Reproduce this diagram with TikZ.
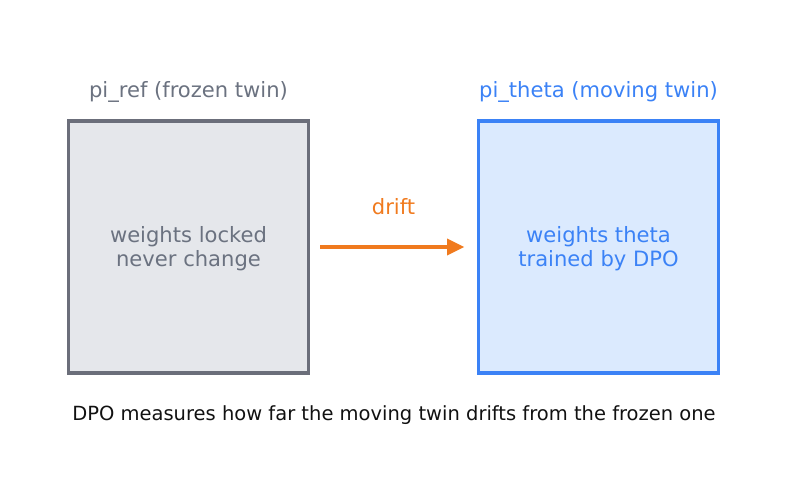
\documentclass[tikz,border=0pt]{standalone}
\usepackage{fontspec}
\setmainfont{DejaVu Sans}
\usetikzlibrary{arrows.meta,positioning}

\definecolor{frozenline}{HTML}{6B6E7A}
\definecolor{frozenfill}{HTML}{E5E7EB}
\definecolor{frozentext}{HTML}{6B7280}
\definecolor{movingline}{HTML}{3B82F6}
\definecolor{movingfill}{HTML}{DBEAFE}
\definecolor{driftcol}{HTML}{F07A1E}
\definecolor{capcol}{HTML}{111111}

\tikzset{
  twin/.style={rectangle, line width=2.2pt, minimum width=4.8cm, minimum height=5.04cm,
    align=center, font=\fontsize{12}{13.6}\selectfont},
  title/.style={font=\fontsize{12}{14}\selectfont}
}

\begin{document}
\begin{tikzpicture}[x=0.02cm,y=-0.02cm]
  \useasboundingbox (0,0) rectangle (787,480);
  \node[twin, draw=frozenline, fill=frozenfill, text=frozentext] (ref) at (188.5,247) {};
  \node[twin, draw=movingline, fill=movingfill, text=movingline] (theta) at (598.5,247) {};
  \node[twin, draw=none, fill=none, text=frozentext] (reftext) at (188.5,249) {weights locked\\never change};
  \node[twin, draw=none, fill=none, text=movingline] (thetatext) at (598.5,249) {weights theta\\trained by DPO};
  \node[title, text=frozentext] (reftitle) at (188.5,92) {pi\_ref (frozen twin)};
  \node[title, text=movingline] (thetatitle) at (598.5,92) {pi\_theta (moving twin)};
  \draw[driftcol, line width=2.4pt, -{Stealth[length=10pt,width=9pt,inset=0pt]},
        shorten <=0.2cm, shorten >=0.24cm] (ref.east) -- (theta.west)
        node[midway, above=0.48cm, title, text=driftcol] (drift) {drift};
  \node[font=\fontsize{11.1}{13}\selectfont, text=capcol] (caption) at (394,415) {DPO measures how far the moving twin drifts from the frozen one};
\end{tikzpicture}
\end{document}
